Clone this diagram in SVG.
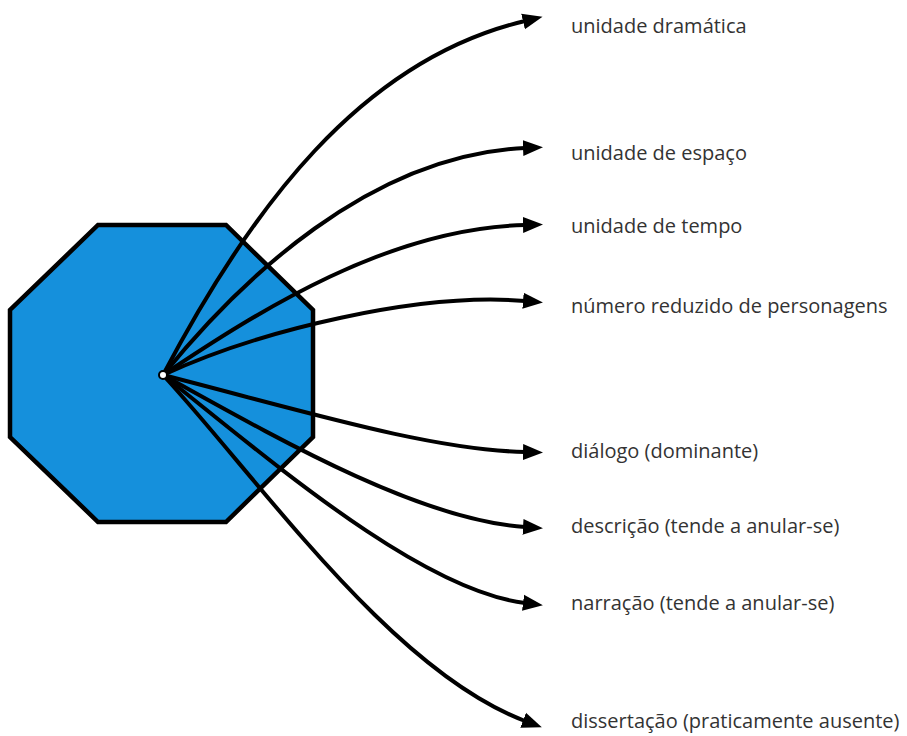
<svg xmlns="http://www.w3.org/2000/svg" width="907" height="736" viewBox="0 0 907 736">
<style>
.lbl{font-family:"Open Sans","Liberation Sans",sans-serif;font-size:20px;fill:#333}
.c{fill:none;stroke:#000;stroke-width:4;marker-end:url(#ah)}
</style>
<defs>
<marker id="ah" markerUnits="userSpaceOnUse" markerWidth="22" markerHeight="18" refX="2" refY="9" orient="auto">
<path d="M0,1 L20,9 L0,17 z" fill="#000"/>
</marker>
</defs>
<rect width="907" height="736" fill="#fff"/>
<g id="octagon">
<polygon points="98,225 226,225 313,310 313,437 226,522 98,522 10,437 10,310" fill="#1590dc" stroke="#000" stroke-width="4.5" stroke-linejoin="miter"/>
</g>
<g id="connectors">
<path class="c" d="M163,375 C250,210 360,60 525,21"/>
<path class="c" d="M163,375 C240,280 370,155 525,148"/>
<path class="c" d="M163,375 C260,310 390,228 525,225"/>
<path class="c" d="M163,375 C260,330 420,292 525,301"/>
<path class="c" d="M163,375 C300,410 430,450 525,452"/>
<path class="c" d="M163,375 C280,440 420,520 525,527"/>
<path class="c" d="M163,375 C270,460 420,590 525,603"/>
<path class="c" d="M163,375 C260,480 390,670 525,721"/>
</g>
<g id="hub"><circle cx="163" cy="375" r="4" fill="#fff" stroke="#000" stroke-width="2"/></g>
<g id="n1"><text class="lbl" x="571" y="33">unidade dramática</text></g>
<g id="n2"><text class="lbl" x="571" y="160">unidade de espaço</text></g>
<g id="n3"><text class="lbl" x="571" y="233">unidade de tempo</text></g>
<g id="n4"><text class="lbl" x="571" y="313">número reduzido de personagens</text></g>
<g id="n5"><text class="lbl" x="571" y="458">diálogo (dominante)</text></g>
<g id="n6"><text class="lbl" x="571" y="533">descrição (tende a anular-se)</text></g>
<g id="n7"><text class="lbl" x="571" y="610">narração (tende a anular-se)</text></g>
<g id="n8"><text class="lbl" x="571" y="728">dissertação (praticamente ausente)</text></g>
</svg>
